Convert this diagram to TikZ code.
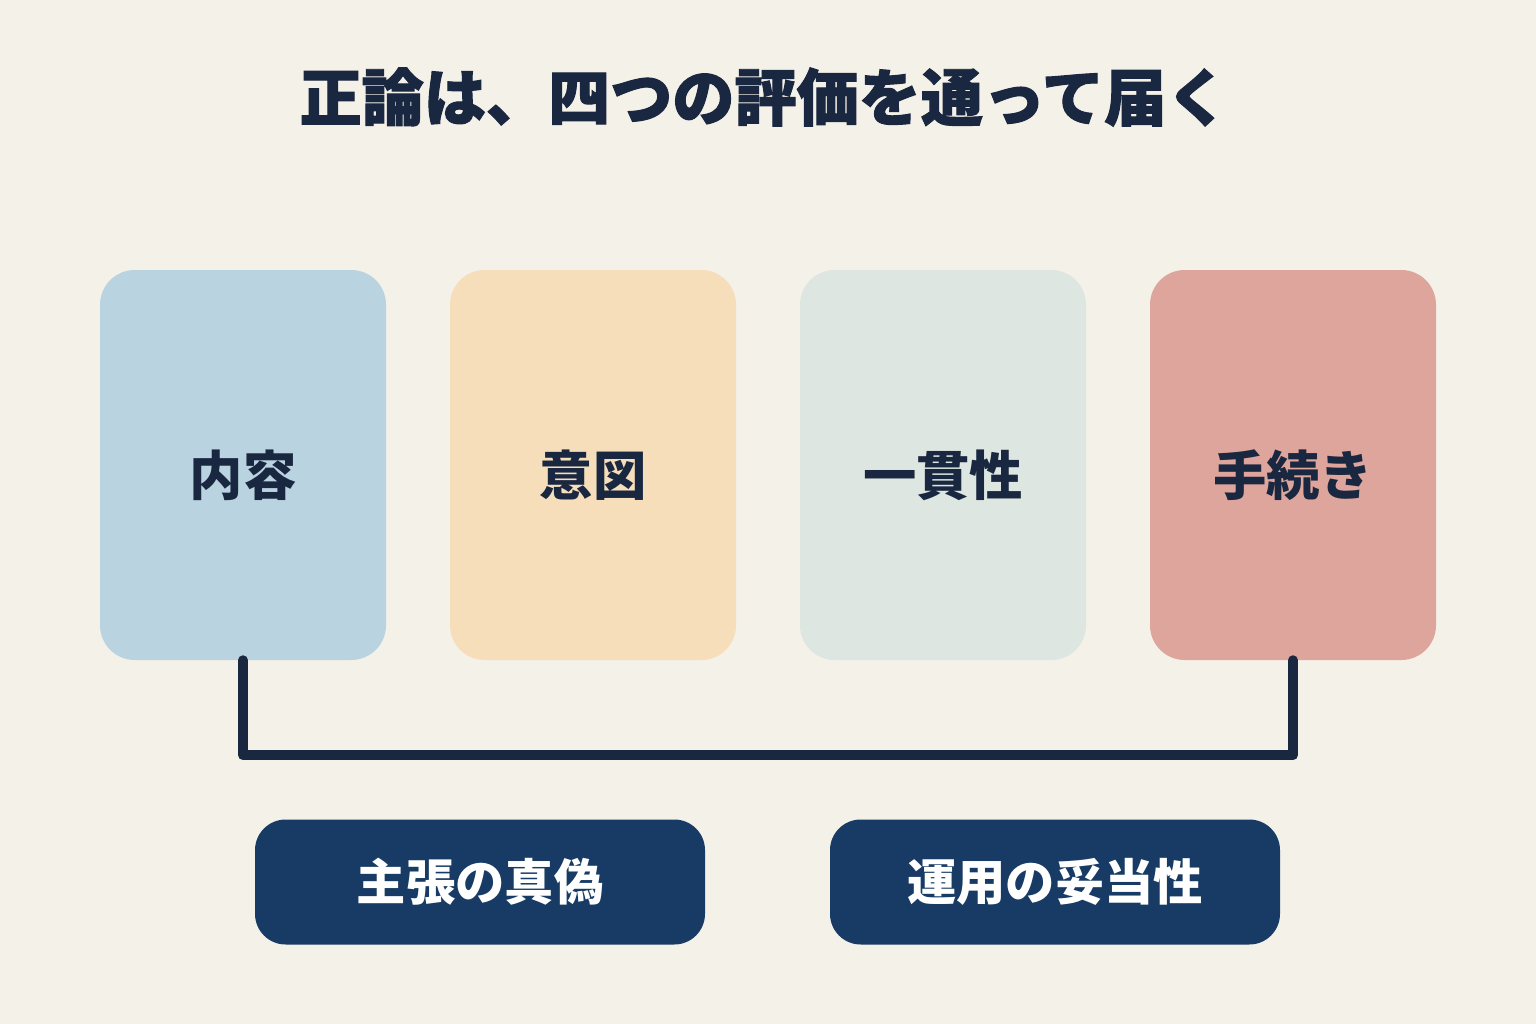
\documentclass[tikz,border=0pt]{standalone}
\usepackage{fontspec}
\newfontfamily\cjk{Noto Sans CJK JP}
\newfontfamily\cjkheavy[FakeBold=1.6]{Noto Sans CJK JP}
\definecolor{bgcream}{HTML}{F4F1E8}
\definecolor{inkdark}{HTML}{1A2740}
\definecolor{cardblue}{HTML}{B9D3E0}
\definecolor{cardpeach}{HTML}{F6DEBA}
\definecolor{cardsage}{HTML}{DDE6E0}
\definecolor{cardrose}{HTML}{DEA59C}
\definecolor{pillnavy}{HTML}{173B64}

\begin{document}
\begin{tikzpicture}[x=0.75pt, y=-0.75pt,
    card/.style={rectangle, rounded corners=26pt, minimum width=214.5pt, minimum height=292.5pt,
      inner sep=0pt, text height=50pt, text depth=5pt, text=inkdark,
      font=\cjk\bfseries\fontsize{40}{48}\selectfont},
    pill/.style={rectangle, rounded corners=23pt, fill=pillnavy, minimum width=337.5pt,
      minimum height=93.75pt, inner sep=0pt, text=white, font=\cjk\bfseries\fontsize{37}{44}\selectfont},
    link/.style={draw=inkdark, line width=7.5pt, line cap=round, line join=round}]
    \fill[bgcream] (0,0) rectangle (1536,1024);
    \useasboundingbox (0,0) rectangle (1536,1024);

    \node[text=inkdark, font=\cjkheavy\bfseries\fontsize{46.6}{54}\selectfont] (title) at (764,97) {正論は、四つの評価を通って届く};

    \node[card, fill=cardblue] (naiyo) at (243,465) {内容};
    \node[card, fill=cardpeach] (ito) at (593,465) {意図};
    \node[card, fill=cardsage] (ikkan) at (943,465) {一貫性};
    \node[card, fill=cardrose] (tetsuzuki) at (1293,465) {手続き};

    \draw[link] (naiyo.south) -- ++(0,95) -| (tetsuzuki.south);

    \node[pill] (shinpi) at (480,882) {主張の真偽};
    \node[pill] (datou) at (1055,882) {運用の妥当性};
  \end{tikzpicture}
\end{document}
